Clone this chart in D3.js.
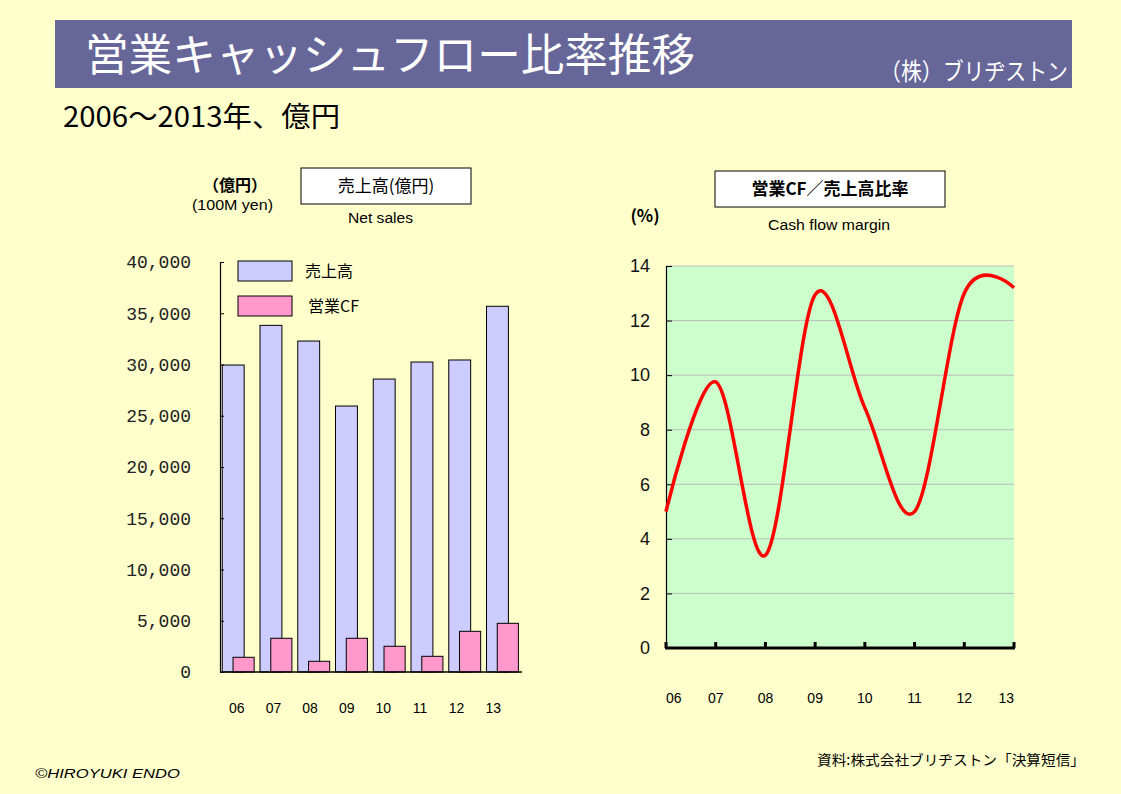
<!DOCTYPE html>
<html><head><meta charset="utf-8">
<script src="https://cdn.jsdelivr.net/npm/d3@7"></script>
<style>
html,body{margin:0;padding:0;background:#FFFFCC;}
svg{display:block;}
text{font-family:"Liberation Sans",Arial,sans-serif;}
text.jp{font-family:"Noto Sans CJK JP","Noto Sans",sans-serif;}
text.mono{font-family:"Liberation Mono","DejaVu Sans Mono",monospace;}
</style></head>
<body>
<svg id="c" width="1121" height="794"></svg>
<script>
// ---- data ----
const years = ["06","07","08","09","10","11","12","13"];
const sales = [29950, 33820, 32290, 25950, 28580, 30240, 30440, 35680];   // 売上高 (億円)
const opCF  = [1435, 3290, 1045, 3290, 2510, 1530, 3970, 4750];          // 営業CF (億円)
const margin = [5.0, 9.75, 3.4, 12.95, 8.8, 5.0, 13.0, 13.2];             // 営業CF/売上高比率 (%)
const salesTicks = [0,5000,10000,15000,20000,25000,30000,35000,40000];
const marginTicks = [0,2,4,6,8,10,12,14];

const svg = d3.select("#c");
svg.append("rect").attr("width",1121).attr("height",794).attr("fill","#FFFFCC");

// ---- title ----
svg.append("rect").attr("x",55).attr("y",20).attr("width",1017).attr("height",68).attr("fill","#666699");
svg.append("text").attr("class","jp").attr("x",85).attr("y",71).attr("font-size",44).attr("fill","#fff")
  .attr("textLength",610).attr("lengthAdjust","spacingAndGlyphs").text("営業キャッシュフロー比率推移");
svg.append("text").attr("class","jp").attr("x",880).attr("y",80).attr("font-size",24).attr("fill","#fff")
  .attr("textLength",188).attr("lengthAdjust","spacingAndGlyphs").text("（株）ブリヂストン");
svg.append("text").attr("class","jp").attr("x",63).attr("y",127).attr("font-size",28).attr("fill","#000")
  .attr("textLength",277).attr("lengthAdjust","spacingAndGlyphs").text("2006～2013年、億円");

// ---- left chart ----
const xL = d3.scaleBand().domain(years).range([220,522]);
const xLab = d3.scaleBand().domain(years).range([218.5,511.5]);
const yL = d3.scaleLinear().domain([0,40000]).range([672,262]);
const bw = xL.bandwidth();

svg.append("text").attr("class","jp").attr("x",235).attr("y",191).attr("text-anchor","middle")
  .attr("font-size",16).attr("font-weight","bold").text("（億円）");
svg.append("text").attr("x",192).attr("y",210).attr("font-size",14)
  .attr("textLength",81).attr("lengthAdjust","spacingAndGlyphs").text("(100M yen)");
svg.append("rect").attr("x",301).attr("y",168).attr("width",170).attr("height",36).attr("fill","#fff").attr("stroke","#000");
svg.append("text").attr("class","jp").attr("x",386).attr("y",192).attr("text-anchor","middle").attr("font-size",17).text("売上高(億円)");
svg.append("text").attr("x",348).attr("y",223).attr("font-size",14)
  .attr("textLength",65).attr("lengthAdjust","spacingAndGlyphs").text("Net sales");

const gL = svg.append("g");
gL.selectAll("rect.s").data(sales).join("rect").attr("class","s")
  .attr("x",(d,i)=>xL(years[i])+bw*0.06).attr("width",bw*0.58)
  .attr("y",d=>yL(d)).attr("height",d=>yL(0)-yL(d))
  .attr("fill","#CCCCFF").attr("stroke","#000").attr("stroke-width",1);
gL.selectAll("rect.c").data(opCF).join("rect").attr("class","c")
  .attr("x",(d,i)=>xL(years[i])+bw*0.345).attr("width",bw*0.56)
  .attr("y",d=>yL(d)).attr("height",d=>yL(0)-yL(d))
  .attr("fill","#FF99CC").attr("stroke","#000").attr("stroke-width",1);

const axL = svg.append("g").attr("transform","translate(220,0)")
  .call(d3.axisLeft(yL).tickValues(salesTicks).tickFormat(d3.format(",")).tickSizeInner(-4).tickSizeOuter(0).tickPadding(29));
axL.select(".domain").attr("stroke","#000").attr("stroke-width",1.2);
axL.selectAll(".tick line").attr("stroke","#000");
axL.selectAll(".tick text").attr("class","mono").attr("font-size",18).attr("fill","#222");
svg.append("line").attr("x1",220).attr("x2",522).attr("y1",yL(0)).attr("y2",yL(0)).attr("stroke","#000").attr("stroke-width",1.5);
svg.selectAll("text.xl").data(years).join("text").attr("class","xl")
  .attr("x",d=>xLab(d)+xLab.bandwidth()/2).attr("y",713).attr("text-anchor","middle").attr("font-size",14).text(d=>d);

// legend
const leg = [{k:"売上高",c:"#CCCCFF",y:261},{k:"営業CF",c:"#FF99CC",y:296}];
leg.forEach(l=>{
  svg.append("rect").attr("x",238).attr("y",l.y).attr("width",54).attr("height",20).attr("fill",l.c).attr("stroke","#000");
  svg.append("text").attr("class","jp").attr("x",l.k==="売上高"?305:308).attr("y",l.y+16).attr("font-size",16).text(l.k);
});

// ---- right chart ----
const xR = d3.scalePoint().domain(years).range([666,1014]);
const yR = d3.scaleLinear().domain([0,14]).range([648,266]);

svg.append("rect").attr("x",715).attr("y",171).attr("width",230).attr("height",36).attr("fill","#fff").attr("stroke","#000");
svg.append("text").attr("class","jp").attr("x",830).attr("y",195).attr("text-anchor","middle").attr("font-size",17).attr("font-weight","bold").text("営業CF／売上高比率");
svg.append("text").attr("class","jp").attr("x",645).attr("y",222).attr("text-anchor","middle").attr("font-size",17).attr("font-weight","bold").text("(%)");
svg.append("text").attr("x",768).attr("y",230).attr("font-size",14)
  .attr("textLength",122).attr("lengthAdjust","spacingAndGlyphs").text("Cash flow margin");

svg.append("rect").attr("x",666).attr("y",yR(14)).attr("width",1014-666).attr("height",yR(0)-yR(14)).attr("fill","#CCFFCC");
svg.selectAll("line.gr").data(marginTicks.filter(d=>d>0)).join("line").attr("class","gr")
  .attr("x1",666).attr("x2",1014).attr("y1",d=>yR(d)).attr("y2",d=>yR(d)).attr("stroke","#BBBBBB").attr("stroke-width",1);

const axR = svg.append("g").attr("transform","translate(666,0)")
  .call(d3.axisLeft(yR).tickValues(marginTicks).tickSizeInner(-6).tickSizeOuter(0).tickPadding(16));
axR.select(".domain").attr("stroke","#000").attr("stroke-width",1.2);
axR.selectAll(".tick line").attr("stroke","#000");
axR.selectAll(".tick text").attr("font-size",18).attr("fill","#111");

svg.append("line").attr("x1",665).attr("x2",1015).attr("y1",yR(0)).attr("y2",yR(0)).attr("stroke","#000").attr("stroke-width",3);
svg.selectAll("line.xt").data(years).join("line").attr("class","xt")
  .attr("x1",d=>xR(d)).attr("x2",d=>xR(d)).attr("y1",yR(0)).attr("y2",yR(0)-6).attr("stroke","#000").attr("stroke-width",3);
svg.selectAll("text.xr").data(years).join("text").attr("class","xr")
  .attr("x",d=>xR(d)).attr("y",703)
  .attr("text-anchor",(d,i)=>i===0?"start":(i===years.length-1?"end":"middle"))
  .attr("font-size",14).text(d=>d);

const line = d3.line().x((d,i)=>xR(years[i])).y(d=>yR(d)).curve(d3.curveCatmullRom.alpha(0));
svg.append("path").datum(margin).attr("d",line).attr("fill","none").attr("stroke","#FF0000").attr("stroke-width",3.5);

// ---- footer ----
svg.append("text").attr("x",35).attr("y",778).attr("font-size",13).attr("font-style","italic")
  .attr("textLength",145).attr("lengthAdjust","spacingAndGlyphs").text("©HIROYUKI ENDO");
svg.append("text").attr("class","jp").attr("x",1085).attr("y",765).attr("text-anchor","end").attr("font-size",14)
  .attr("textLength",268).attr("lengthAdjust","spacingAndGlyphs").text("資料:株式会社ブリヂストン「決算短信」");
</script>
</body></html>
